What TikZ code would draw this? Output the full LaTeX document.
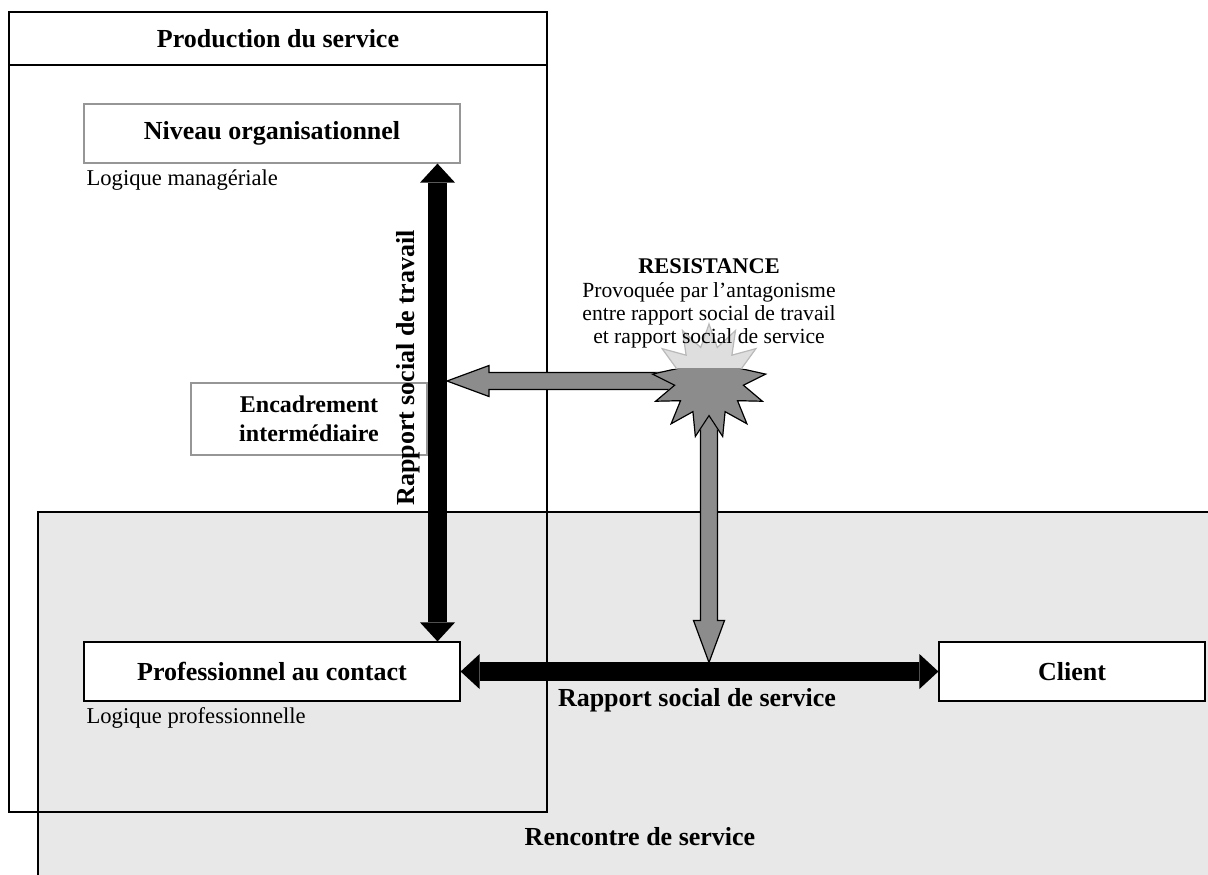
\documentclass[tikz,border=0pt]{standalone}
\usepackage{fontspec}
\setmainfont{Liberation Serif}
\usepackage{tikz}
\usetikzlibrary{calc}
\usetikzlibrary{arrows.meta, shapes.geometric, positioning}
\tikzset{>=stealth}
\definecolor{rencgris}{RGB}{232,232,232}
\definecolor{cadregris}{RGB}{150,150,150}
\definecolor{resgris}{RGB}{140,140,140}
\definecolor{resclair}{RGB}{222,222,222}
\tikzset{
	gras/.style={font=\fontsize{13}{15}\selectfont\bfseries},
	boite/.style={draw, fill=white, inner sep=0pt, gras},
	boitegrise/.style={boite, draw=cadregris},
	logique/.style={font=\fontsize{11.3}{13}\selectfont, anchor=west, inner sep=0pt},
	rapport/.style={line width=9.5pt, arrows={Triangle[width=17.5pt,length=9.5pt,line width=0pt]-Triangle[width=17.5pt,length=9.5pt,line width=0pt]}},
	resfleche/.style={draw, fill=resgris, to path={
		($(\tikztostart)!4.25pt!90:(\tikztotarget)$)
		-- ($($(\tikztotarget)!21pt!(\tikztostart)$)!4.25pt!90:(\tikztotarget)$)
		-- ($($(\tikztotarget)!21pt!(\tikztostart)$)!7.75pt!90:(\tikztotarget)$)
		-- (\tikztotarget)
		-- ($($(\tikztotarget)!21pt!(\tikztostart)$)!7.75pt!-90:(\tikztotarget)$)
		-- ($($(\tikztotarget)!21pt!(\tikztostart)$)!4.25pt!-90:(\tikztotarget)$)
		-- ($(\tikztostart)!4.25pt!-90:(\tikztotarget)$) -- cycle}},
	eclat/.style={star, star points=13, star point ratio=1.65, minimum size=57pt, inner sep=0pt}
}

\begin{document}
\begin{tikzpicture}[x=0.5pt, y=-0.5pt, line width=0.6pt]
	\useasboundingbox (0,0) rectangle (1208,874);
	% rencontre de service
	\fill (38,512) rectangle (1220,890) [rencgris];
	\draw (38,890) -- (38,512) -- (1220,512);
	\node[gras] (rencontre) at (640,837) {Rencontre de service};
	% production du service
	\draw (9,12) rectangle (547,812);
	\draw (9,65) -- (547,65);
	\node[gras] (production) at (278,39) {Production du service};

	\node[boitegrise, minimum width=188pt, minimum height=29.5pt] (niveau) at (272,133.5) {Niveau organisationnel};
	\node[logique] (logman) at (86,180) {Logique managériale};
	\node[boitegrise, minimum width=118pt, minimum height=36pt, align=center, font=\fontsize{12}{14.5}\selectfont\bfseries] (encadrement) at (309,419) {Encadrement\\intermédiaire};
	\node[boite, minimum width=188pt, minimum height=29.5pt] (prof) at (272,671.5) {Professionnel au contact};
	\node[logique] (logpro) at (86,718) {Logique professionnelle};
	\node[boite, minimum width=133pt, minimum height=29.5pt] (client) at (1072,671.5) {Client};

	% resistance
	\coordinate (travx) at (437.5,0);
	\coordinate (eclatpos) at (709,381);
	\coordinate (pointe1) at ([xshift=4.75pt]eclatpos -| travx);
	\coordinate (pointe2) at ([yshift=4.5pt]eclatpos |- prof.east);
	\draw[resfleche] (eclatpos) to (pointe1);
	\draw[resfleche] (eclatpos) to (pointe2);
	\node[eclat, fill=resclair, draw=gray!55, path picture={\fill[resgris] ([yshift=6pt]path picture bounding box.west) rectangle (path picture bounding box.south east);}] (eclat) at (eclatpos) {};
	\begin{scope}
		\clip (600,369) rectangle (820,470);
		\node[eclat, draw] (eclatbord) at (eclatpos) {};
	\end{scope}
	\node[align=center, inner sep=0pt, font=\fontsize{10.8}{11.5}\selectfont] (resistance) at (709,303) {{\fontsize{11.2}{11}\selectfont\bfseries RESISTANCE}\\[0.5pt]Provoquée par l'antagonisme\\entre rapport social de travail\\et rapport social de service};

	% rapports sociaux
	\draw[rapport] (niveau.south -| travx) -- (prof.north -| travx);
	\draw[rapport] (prof.east) -- (client.west);
	\node[gras, rotate=90] (travail) at (408,368) {Rapport social de travail};
	\node[gras] (service) at (697,700) {Rapport social de service};
\end{tikzpicture}
\end{document}
